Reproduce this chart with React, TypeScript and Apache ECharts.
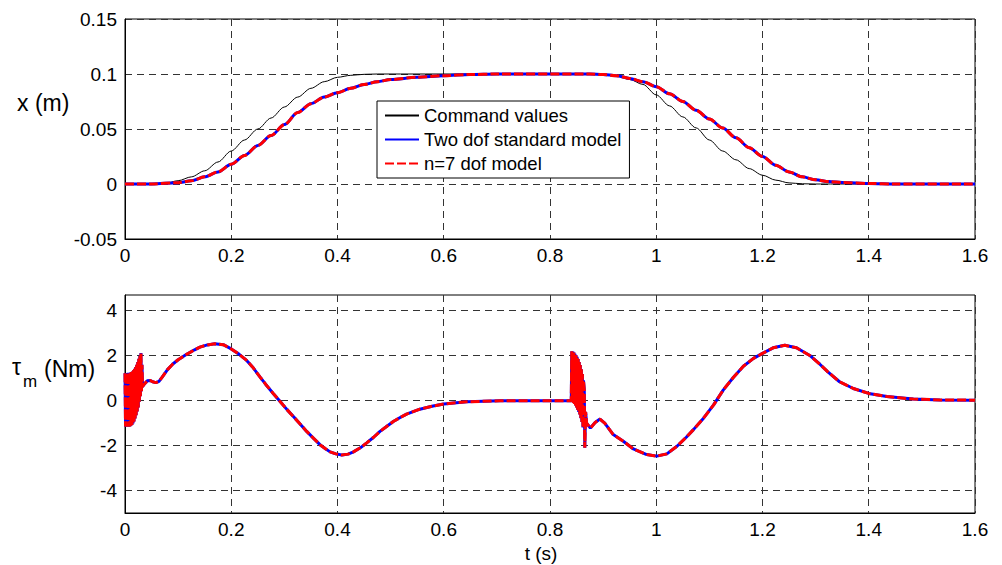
import React, { useEffect, useRef } from "react";
import * as echarts from "echarts";

// ---- Top plot: position x (m) ----
const tCmd = [0, 0.05, 0.075, 0.1, 0.125, 0.15, 0.175, 0.2, 0.225, 0.25, 0.275, 0.3, 0.325, 0.35, 0.375, 0.4, 0.425, 0.45, 0.475,
  0.85, 0.875, 0.9, 0.925, 0.95, 0.975, 1.0, 1.025, 1.05, 1.075, 1.1, 1.125, 1.15, 1.175, 1.2, 1.225, 1.25, 1.275, 1.3, 1.6];
const cmdX = [0, 0, 0.0005, 0.003, 0.0065, 0.012, 0.02, 0.03, 0.04, 0.05, 0.06, 0.07, 0.079, 0.087, 0.093, 0.097, 0.0988, 0.0997, 0.1,
  0.1, 0.0999, 0.0995, 0.0985, 0.095, 0.0905, 0.081, 0.071, 0.061, 0.051, 0.04, 0.03, 0.022, 0.014, 0.008, 0.0035, 0.001, 0.0002, 0, 0];

const tModel = [0, 0.05, 0.1, 0.125, 0.15, 0.175, 0.2, 0.225, 0.25, 0.275, 0.3, 0.325, 0.35, 0.375, 0.4, 0.425, 0.45, 0.475, 0.5, 0.55,
  0.6, 0.65, 0.7, 0.875, 0.9, 0.925, 0.95, 0.975, 1.0, 1.025, 1.05, 1.075, 1.1, 1.125, 1.15, 1.175, 1.2, 1.225, 1.25, 1.275,
  1.3, 1.325, 1.35, 1.4, 1.45, 1.6];
const modelX = [0, 0, 0.0012, 0.003, 0.0065, 0.011, 0.018, 0.026, 0.035, 0.044, 0.054, 0.065, 0.073, 0.079, 0.083, 0.087, 0.0905, 0.093, 0.095, 0.097,
  0.0985, 0.0995, 0.1, 0.1, 0.0995, 0.0985, 0.096, 0.093, 0.0885, 0.082, 0.075, 0.067, 0.059, 0.051, 0.042, 0.033, 0.025, 0.017, 0.011, 0.0065,
  0.0038, 0.0022, 0.0013, 0.0005, 0, 0];

// ---- Bottom plot: motor torque tau_m (Nm) ----
const tTau = [
  0, 0.001, 0.002, 0.003, 0.004, 0.005, 0.006, 0.007, 0.008, 0.009, 0.01, 0.011, 0.012, 0.013, 0.014, 0.015, 0.016, 0.017,
  0.018, 0.019, 0.02, 0.021, 0.022, 0.023, 0.024, 0.025, 0.026, 0.027, 0.028, 0.029, 0.03, 0.031, 0.032, 0.033,
  0.035, 0.038, 0.042, 0.047, 0.052, 0.058, 0.064, 0.07, 0.08, 0.09, 0.1, 0.116, 0.13, 0.141, 0.155, 0.169, 0.185, 0.2,
  0.215, 0.229, 0.24, 0.254, 0.265, 0.279, 0.292, 0.305, 0.317, 0.33, 0.342, 0.355, 0.367, 0.378, 0.386, 0.397, 0.408,
  0.42, 0.43, 0.443, 0.455, 0.468, 0.48, 0.493, 0.505, 0.518, 0.53, 0.555, 0.58, 0.6, 0.643, 0.706, 0.75, 0.84,
  0.841, 0.842, 0.843, 0.844, 0.845, 0.846, 0.847, 0.848, 0.849, 0.85, 0.851, 0.852, 0.853, 0.854, 0.855, 0.856, 0.857,
  0.858, 0.859, 0.86, 0.861, 0.862, 0.863, 0.8645, 0.8655, 0.867, 0.869,
  0.876, 0.885, 0.894, 0.903, 0.919, 0.938, 0.957, 0.982, 1.001, 1.02, 1.039, 1.057, 1.07, 1.089, 1.108, 1.126, 1.145,
  1.164, 1.183, 1.2, 1.22, 1.242, 1.264, 1.289, 1.308, 1.323, 1.345, 1.371, 1.4, 1.434, 1.484, 1.534, 1.6,
];
const tauM = [
  1.22, -1.15, 1.23, -1.16, 1.23, -1.16, 1.24, -1.16, 1.24, -1.15, 1.25, -1.12, 1.27, -1.08, 1.3, -1.02, 1.35, -0.93,
  1.42, -0.8, 1.5, -0.65, 1.6, -0.48, 1.72, -0.3, 1.86, -0.05, 2.0, 0.2, 2.12, 0.42, 1.6, 0.62,
  0.7, 0.78, 0.88, 0.9, 0.84, 0.8, 0.86, 1.05, 1.38, 1.63, 1.82, 2.06, 2.25, 2.38, 2.48, 2.53, 2.49, 2.3,
  2.06, 1.79, 1.5, 1.06, 0.72, 0.32, -0.04, -0.4, -0.71, -1.05, -1.37, -1.68, -1.96, -2.15, -2.28, -2.37, -2.42,
  -2.38, -2.28, -2.1, -1.88, -1.63, -1.37, -1.14, -0.93, -0.75, -0.6, -0.38, -0.24, -0.15, -0.05, -0.01, 0, 0,
  2.2, -0.05, 2.18, -0.1, 2.14, -0.15, 2.08, -0.22, 2.02, -0.3, 1.95, -0.4, 1.85, -0.5, 1.72, -0.62, 1.58,
  -0.78, 1.4, -0.95, 1.18, -1.2, 0.9, 0.5, -2.1, -0.5, -1.0,
  -1.22, -0.97, -0.82, -1.0, -1.51, -1.81, -2.15, -2.4, -2.47, -2.37, -2.03, -1.62, -1.29, -0.78, -0.19, 0.47, 1.03,
  1.53, 1.88, 2.1, 2.35, 2.46, 2.35, 2.01, 1.62, 1.28, 0.84, 0.54, 0.32, 0.18, 0.07, 0.03, 0.02,
];

const NAME_CMD = "Command values";
const NAME_TWO = "Two dof standard model";
const NAME_N7 = "n=7 dof model";

const FONT = "'Liberation Sans', Arial, Helvetica, sans-serif";

const zip = (xs: number[], ys: number[]) => xs.map((x, i) => [x, ys[i]]);

const fmt = (v: number) => String(Number(v.toFixed(3)));

export default function App() {
  const ref = useRef<HTMLDivElement>(null);

  useEffect(() => {
    if (!ref.current) return;
    const chart = echarts.init(ref.current, undefined, { renderer: "svg" });

    const gridDash = { type: [7, 5] as any, color: "#333", width: 1 };
    const xAxisBase = {
      type: "value",
      min: 0,
      max: 1.6,
      interval: 0.2,
      axisLine: { show: true, onZero: false, lineStyle: { color: "#000", width: 1 } },
      axisTick: { show: false },
      axisLabel: { color: "#000", fontSize: 19, fontFamily: FONT, margin: 7, formatter: fmt },
      splitLine: { show: true, lineStyle: gridDash },
    };

    const option: any = {
      animation: false,
      backgroundColor: "#fff",
      grid: [
        { left: 125, top: 19, width: 850, height: 220, show: true, borderColor: "#000", borderWidth: 1, backgroundColor: "transparent" },
        { left: 125, top: 295, width: 850, height: 218, show: true, borderColor: "#000", borderWidth: 1, backgroundColor: "transparent" },
      ],
      xAxis: [
        { ...xAxisBase, gridIndex: 0 },
        { ...xAxisBase, gridIndex: 1 },
      ],
      yAxis: [
        {
          type: "value",
          gridIndex: 0,
          min: -0.05,
          max: 0.15,
          interval: 0.05,
          axisLine: { show: true, onZero: false, lineStyle: { color: "#000" } },
          axisTick: { show: false },
          axisLabel: { color: "#000", fontSize: 19, fontFamily: FONT, margin: 8, formatter: fmt },
          splitLine: { show: true, lineStyle: gridDash },
        },
        {
          type: "value",
          gridIndex: 1,
          min: -5,
          max: 4.7,
          interval: 1,
          axisLine: { show: true, onZero: false, lineStyle: { color: "#000" } },
          axisTick: { show: false },
          axisLabel: {
            color: "#000",
            fontSize: 19,
            fontFamily: FONT,
            margin: 8,
            formatter: (v: number) => (Math.abs(v % 2) < 1e-6 ? String(Math.round(v)) : ""),
          },
          splitLine: { show: true, lineStyle: { ...gridDash, color: ["rgba(0,0,0,0)", "#333"] } },
        },
      ],
      legend: {
        data: [NAME_CMD, NAME_TWO, NAME_N7],
        orient: "vertical",
        left: 377,
        top: 101,
        itemWidth: 34,
        itemHeight: 14,
        itemGap: 5,
        padding: [5, 8, 5, 7],
        backgroundColor: "#fff",
        borderColor: "#000",
        borderWidth: 1,
        borderRadius: 0,
        selectedMode: false,
        itemStyle: { opacity: 0, borderWidth: 0, color: "rgba(0,0,0,0)" },
        textStyle: { color: "#000", fontSize: 18.5, fontFamily: FONT, lineHeight: 19 },
      },
      graphic: [
        { type: "text", x: 17, y: 103, style: { text: "x (m)", fill: "#000", fontSize: 23, fontFamily: FONT, align: "left", verticalAlign: "middle" } },
        { type: "text", x: 12, y: 367, style: { text: "τ", fill: "#000", fontSize: 23, fontFamily: FONT, align: "left", verticalAlign: "middle" } },
        { type: "text", x: 23, y: 381, style: { text: "m", fill: "#000", fontSize: 17, fontFamily: FONT, align: "left", verticalAlign: "middle" } },
        { type: "text", x: 44, y: 369, style: { text: "(Nm)", fill: "#000", fontSize: 23, fontFamily: FONT, align: "left", verticalAlign: "middle" } },
        { type: "text", x: 541, y: 553, style: { text: "t (s)", fill: "#000", fontSize: 19, fontFamily: FONT, align: "center", verticalAlign: "middle" } },
      ],
      series: [
        {
          name: NAME_CMD, type: "line", xAxisIndex: 0, yAxisIndex: 0, data: zip(tCmd, cmdX),
          symbol: "none", smooth: 0.3, smoothMonotone: "x", z: 3,
          itemStyle: { color: "#000" }, lineStyle: { color: "#000", width: 1 },
        },
        {
          name: NAME_TWO, type: "line", xAxisIndex: 0, yAxisIndex: 0, data: zip(tModel, modelX),
          symbol: "none", smooth: 0.3, smoothMonotone: "x", z: 4,
          itemStyle: { color: "#0000ff" }, lineStyle: { color: "#0000ff", width: 3 },
        },
        {
          name: NAME_N7, type: "line", xAxisIndex: 0, yAxisIndex: 0, data: zip(tModel, modelX),
          symbol: "none", smooth: 0.3, smoothMonotone: "x", z: 5,
          itemStyle: { color: "#ff0000" }, lineStyle: { color: "#ff0000", width: 3, type: [9, 3] },
        },
        {
          name: NAME_TWO, type: "line", xAxisIndex: 1, yAxisIndex: 1, data: zip(tTau, tauM),
          symbol: "none", z: 4,
          itemStyle: { color: "#0000ff" }, lineStyle: { color: "#0000ff", width: 3 },
        },
        {
          name: NAME_N7, type: "line", xAxisIndex: 1, yAxisIndex: 1, data: zip(tTau, tauM),
          symbol: "none", z: 5,
          itemStyle: { color: "#ff0000" }, lineStyle: { color: "#ff0000", width: 3, type: [9, 3] },
        },
      ],
    };

    chart.setOption(option);
    return () => chart.dispose();
  }, []);

  return (
    <div
      ref={ref}
      style={{ position: "fixed", left: 0, top: 0, width: 1002, height: 565, background: "#fff" }}
    />
  );
}
